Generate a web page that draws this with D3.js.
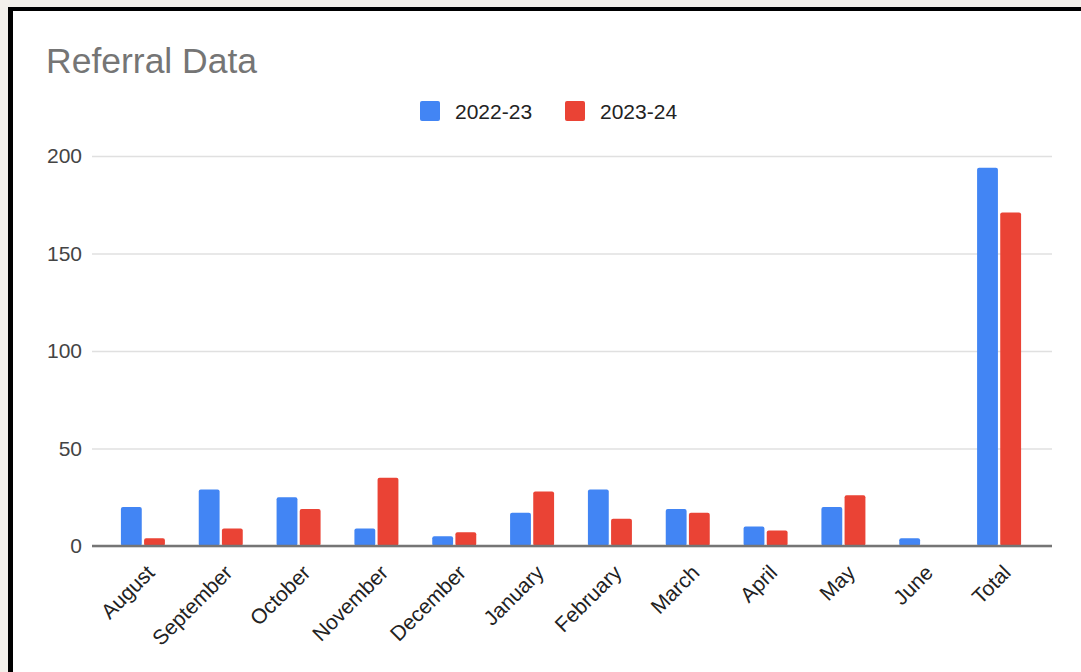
<!DOCTYPE html>
<html>
<head>
<meta charset="utf-8">
<script src="https://cdn.jsdelivr.net/npm/d3@7"></script>
<style>
  html, body { margin: 0; padding: 0; background: #f3f0eb; }
  svg { display: block; font-family: "Liberation Sans", Arial, sans-serif; }
</style>
</head>
<body>
<div id="chart-area"></div>
<script>
// Data
const months = ['August', 'September', 'October', 'November', 'December', 'January',
  'February', 'March', 'April', 'May', 'June', 'Total'];
const series = ['2022-23', '2023-24'];
const values2223 = [20, 29, 25, 9, 5, 17, 29, 19, 10, 20, 4, 194];
const values2324 = [4, 9, 19, 35, 7, 28, 14, 17, 8, 26, 0, 171];
const yTicks = [0, 50, 100, 150, 200];
const colors = ['#4285f4', '#ea4335'];

const W = 1081, H = 672;

const svg = d3.select('#chart-area')
  .append('svg')
  .attr('width', W)
  .attr('height', H);

// frame: beige page, black border, white card
svg.append('rect').attr('width', W).attr('height', H).attr('fill', '#f3f0eb');
svg.append('rect').attr('x', 8).attr('y', 7).attr('width', W).attr('height', H).attr('fill', '#000');
svg.append('rect').attr('x', 13).attr('y', 11).attr('width', W).attr('height', H).attr('fill', '#fff');

// title
svg.append('text')
  .attr('x', 46)
  .attr('y', 73)
  .attr('fill', '#757575')
  .style('font-size', '35.5px')
  .text('Referral Data');

// scales
const x = d3.scaleBand()
  .domain(months)
  .range([104, 1038]);

const x1 = d3.scaleBand()
  .domain(series)
  .range([-22, 22])
  .paddingInner(0.1);

const y = d3.scaleLinear()
  .domain([0, 200])
  .range([546, 156]);

// gridlines + y labels
const yAxis = d3.axisLeft(y)
  .tickValues(yTicks)
  .tickSize(-(1052 - 92))
  .tickPadding(10);

const gy = svg.append('g')
  .attr('transform', 'translate(92,0)')
  .call(yAxis);
gy.select('.domain').remove();
gy.selectAll('line')
  .attr('stroke', '#e0e0e0')
  .attr('stroke-width', 1.5);
gy.selectAll('text')
  .attr('fill', '#444')
  .style('font-size', '21px')
  .attr('x', -10);

// bars
const rows = months.map((m, i) => ({ month: m, vals: [values2223[i], values2324[i]] }));

const groups = svg.append('g')
  .selectAll('g')
  .data(rows)
  .join('g')
  .attr('transform', d => 'translate(' + (x(d.month) + x.bandwidth() / 2) + ',0)');

groups.selectAll('rect')
  .data(d => d.vals.map((v, j) => ({ key: series[j], v: v, j: j })).filter(d => d.v > 0))
  .join('rect')
  .attr('x', d => x1(d.key))
  .attr('width', x1.bandwidth())
  .attr('y', d => y(d.v))
  .attr('height', d => y(0) - y(d.v))
  .attr('rx', 2)
  .attr('fill', d => colors[d.j]);

// baseline
svg.append('line')
  .attr('x1', 92)
  .attr('x2', 1052)
  .attr('y1', y(0))
  .attr('y2', y(0))
  .attr('stroke', '#757575')
  .attr('stroke-width', 2.5);

// x labels, rotated
svg.append('g')
  .selectAll('text')
  .data(months)
  .join('text')
  .attr('transform', d => 'translate(' + (x(d) + x.bandwidth() / 2 + 13) + ',574) rotate(-45)')
  .attr('text-anchor', 'end')
  .attr('fill', '#222')
  .style('font-size', '21px')
  .text(d => d);

// legend
const legend = svg.append('g')
  .selectAll('g')
  .data(series)
  .join('g')
  .attr('transform', (d, i) => 'translate(' + [420, 565][i] + ',101)');

legend.append('rect')
  .attr('width', 20)
  .attr('height', 20)
  .attr('rx', 2)
  .attr('fill', (d, i) => colors[i]);

legend.append('text')
  .attr('x', 35)
  .attr('y', 18)
  .attr('fill', '#222')
  .style('font-size', '21px')
  .text(d => d);
</script>
</body>
</html>
